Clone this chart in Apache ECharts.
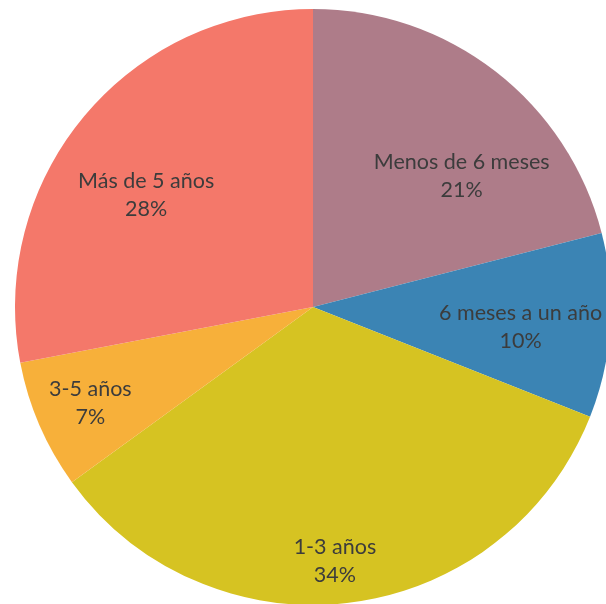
<!DOCTYPE html>
<html>
<head>
<meta charset="utf-8">
<script src="https://cdn.jsdelivr.net/npm/echarts@6/dist/echarts.min.js"></script>
<style>html,body{margin:0;padding:0;background:#fff}#c{width:606px;height:604px}</style>
</head>
<body>
<div id="c"></div>
<script>
const categories = ['Menos de 6 meses', '6 meses a un año', '1-3 años', '3-5 años', 'Más de 5 años'];
const values = [21, 10, 34, 7, 28];
const colors = ['#AE7C89', '#3B84B4', '#D6C322', '#F7B03A', '#F4786A'];
// small nudges of the inside labels (style only)
const labelNudges = [[12, 45], [-15, 6], [-6, 33], [-18, 7], [5, 30]];

const chart = echarts.init(document.getElementById('c'), null, {renderer: 'canvas'});
const data = categories.map((n, i) => ({name: n, value: values[i]}));
chart.setOption({
  animation: false,
  color: colors,
  series: [
    {
      type: 'pie',
      center: [313, 307],
      radius: [0, 298],
      startAngle: 90,
      clockwise: true,
      label: {show: false},
      labelLine: {show: false},
      itemStyle: {borderWidth: 0},
      data: data
    },
    {
      type: 'pie',
      center: [313, 307],
      radius: [142, 298],
      startAngle: 90,
      clockwise: true,
      silent: true,
      itemStyle: {opacity: 0},
      label: {
        show: true,
        position: 'inside',
        formatter: p => p.name + '\n' + p.value + '%',
        color: '#3c3c3c',
        fontFamily: 'Lato',
        fontSize: 21.5,
        lineHeight: 28,
        opacity: 1
      },
      labelLayout: p => ({dx: labelNudges[p.dataIndex][0], dy: labelNudges[p.dataIndex][1]}),
      labelLine: {show: false},
      data: data
    }
  ]
});
</script>
</body>
</html>
